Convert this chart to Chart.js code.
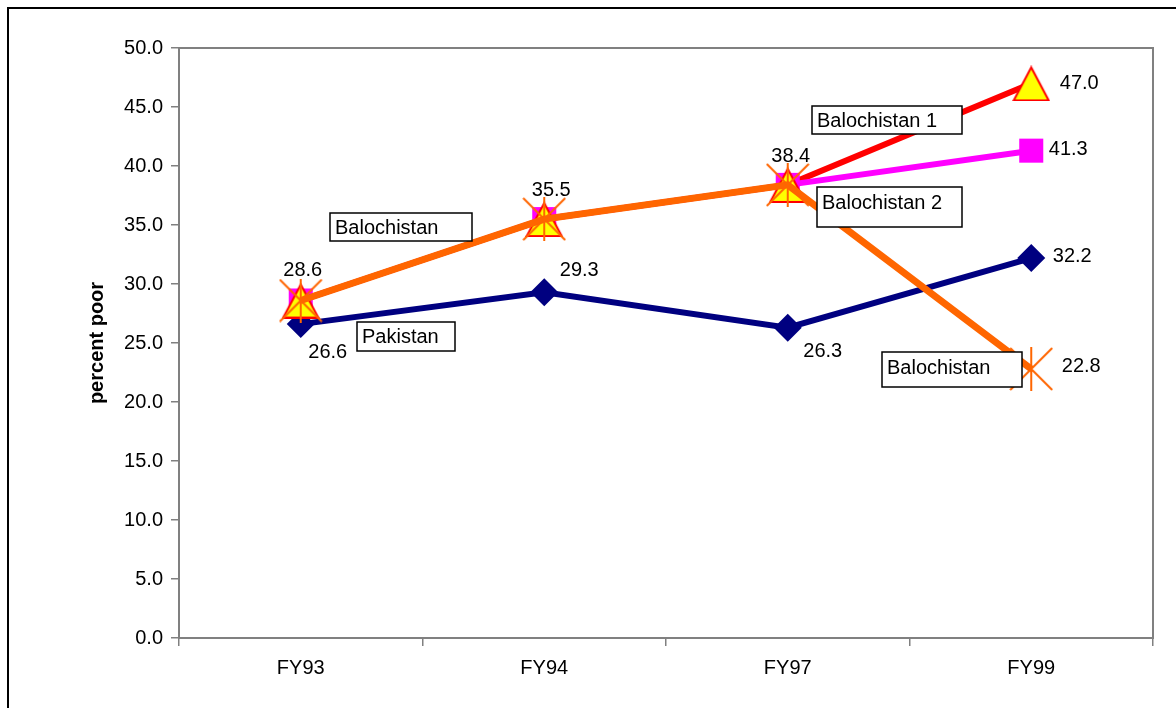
<!DOCTYPE html>
<html>
<head>
<meta charset="utf-8">
<script src="https://cdn.jsdelivr.net/npm/chart.js@4.4.1/dist/chart.umd.min.js"></script>
<style>
  html, body { margin: 0; padding: 0; background: #fff; }
</style>
</head>
<body>
<canvas id="grafico" width="1176" height="708"></canvas>
<script>
// --- dados ---
const anos = ['FY93', 'FY94', 'FY97', 'FY99'];
const pakistan = [26.6, 29.3, 26.3, 32.2];
const balochistan1 = [28.6, 35.5, 38.4, 47.0];
const balochistan2 = [28.6, 35.5, 38.4, 41.3];
const balochistan = [28.6, 35.5, 38.4, 22.8];
const yTicks = [0, 5, 10, 15, 20, 25, 30, 35, 40, 45, 50];

// caixas de texto com o nome das séries (posição em pixels do canvas)
const caixas = [
    { texto: 'Balochistan', x: 330, y: 213, w: 142, h: 28 },
    { texto: 'Pakistan', x: 357, y: 322, w: 98, h: 29 },
    { texto: 'Balochistan 1', x: 812, y: 106, w: 150, h: 28 },
    { texto: 'Balochistan 2', x: 817, y: 187, w: 145, h: 40 },
    { texto: 'Balochistan', x: 882, y: 352, w: 140, h: 35 }
];

const FONTE = '"Liberation Sans", Arial, sans-serif';

// marcador "estrela" do Excel: X + traço vertical
function criarEstrela(cor, tam) {
    const c = document.createElement('canvas');
    c.width = tam; c.height = tam;
    const g = c.getContext('2d');
    g.strokeStyle = cor;
    g.lineWidth = 2;
    g.beginPath();
    g.moveTo(1, 1); g.lineTo(tam - 1, tam - 1);
    g.moveTo(tam - 1, 1); g.lineTo(1, tam - 1);
    g.moveTo(tam / 2, 0); g.lineTo(tam / 2, tam);
    g.stroke();
    return c;
}

// triângulo centrado na caixa (como no Excel)
function criarTriangulo(fundo, borda, w, h) {
    const c = document.createElement('canvas');
    c.width = w; c.height = h;
    const g = c.getContext('2d');
    g.fillStyle = fundo;
    g.strokeStyle = borda;
    g.lineWidth = 2;
    g.lineJoin = 'miter';
    g.beginPath();
    g.moveTo(w / 2, 2);
    g.lineTo(w - 1.5, h - 1);
    g.lineTo(1.5, h - 1);
    g.closePath();
    g.fill();
    g.stroke();
    return c;
}

const estrela = criarEstrela('#FF6600', 44);
const triangulo = criarTriangulo('#FFFF00', '#FF0000', 38, 36);

const pluginDesenho = {
    id: 'desenho',
    beforeDraw(chart) {
        const ctx = chart.ctx;
        ctx.save();
        ctx.fillStyle = '#fff';
        ctx.fillRect(0, 0, chart.width, chart.height);
        // moldura externa
        ctx.strokeStyle = '#000';
        ctx.lineWidth = 2;
        ctx.strokeRect(8, 8, 1300, 900);
        ctx.restore();
    },
    beforeDatasetsDraw(chart) {
        const { ctx, chartArea: a } = chart;
        ctx.save();
        ctx.strokeStyle = '#808080';
        ctx.lineWidth = 2;
        ctx.strokeRect(a.left, a.top, a.right - a.left, a.bottom - a.top);
        ctx.restore();
    },
    afterDatasetsDraw(chart) {
        const ctx = chart.ctx;
        ctx.save();
        ctx.font = '20px ' + FONTE;
        ctx.fillStyle = '#000';
        ctx.textAlign = 'center';
        ctx.textBaseline = 'middle';
        chart.data.datasets.forEach((ds, i) => {
            if (!ds.rotulos) return;
            const meta = chart.getDatasetMeta(i);
            Object.entries(ds.rotulos).forEach(([idx, [dx, dy]]) => {
                const p = meta.data[idx];
                ctx.fillText(ds.data[idx].toFixed(1), p.x + dx, p.y + dy);
            });
        });
        // caixas com nomes
        ctx.textAlign = 'left';
        caixas.forEach(c => {
            ctx.fillStyle = '#fff';
            ctx.fillRect(c.x, c.y, c.w, c.h);
            ctx.strokeStyle = '#000';
            ctx.lineWidth = 1.5;
            ctx.strokeRect(c.x, c.y, c.w, c.h);
            ctx.fillStyle = '#000';
            ctx.fillText(c.texto, c.x + 5, c.y + Math.min(c.h / 2, 15) + 1);
        });
        ctx.restore();
    }
};

new Chart(document.getElementById('grafico'), {
    type: 'line',
    data: {
        labels: anos,
        datasets: [
            {
                label: 'Pakistan',
                data: pakistan,
                borderColor: '#000080',
                backgroundColor: '#000080',
                borderWidth: 6,
                pointStyle: 'rectRot',
                pointRadius: 14,
                pointBorderWidth: 0,
                order: 5,
                rotulos: { 0: [27, 28], 1: [35, -22], 2: [35, 24], 3: [41, -2] }
            },
            {
                label: 'Balochistan 1',
                data: balochistan1,
                borderColor: '#FF0000',
                borderWidth: 6,
                pointRadius: 0,
                order: 4
            },
            {
                label: 'Balochistan 2',
                data: balochistan2,
                borderColor: '#FF00FF',
                backgroundColor: '#FF00FF',
                borderWidth: 6,
                pointStyle: 'rect',
                pointRadius: 17,
                pointBorderWidth: 0,
                order: 3,
                rotulos: { 3: [37, -1] }
            },
            {
                label: 'Balochistan 1 (pontos)',
                data: balochistan1,
                showLine: false,
                pointStyle: triangulo,
                order: 2,
                rotulos: { 0: [2, -30], 1: [7, -29], 2: [3, -28], 3: [48, 0] }
            },
            {
                label: 'Balochistan',
                data: balochistan,
                borderColor: '#FF6600',
                borderWidth: 7,
                pointStyle: estrela,
                order: 1,
                rotulos: { 3: [50, -2] }
            }
        ]
    },
    options: {
        responsive: false,
        animation: false,
        layout: { padding: { top: 48, right: 23, left: 0, bottom: 0 } },
        plugins: { legend: { display: false }, tooltip: { enabled: false } },
        scales: {
            x: {
                offset: true,
                grid: { drawOnChartArea: false, offset: true, tickLength: 8, color: '#808080', lineWidth: 1.5 },
                border: { color: '#808080', width: 2 },
                ticks: { color: '#000', font: { family: FONTE, size: 20 }, padding: 10, maxRotation: 0 },
                afterFit(scale) { scale.height = 70; }
            },
            y: {
                min: 0,
                max: 50,
                afterBuildTicks(scale) { scale.ticks = yTicks.map(v => ({ value: v })); },
                grid: { drawOnChartArea: false, tickLength: 8, color: '#808080', lineWidth: 1.5 },
                border: { color: '#808080', width: 2 },
                ticks: {
                    color: '#000',
                    font: { family: FONTE, size: 20 },
                    padding: 8,
                    callback: v => Number(v).toFixed(1)
                },
                title: {
                    display: true,
                    text: 'percent poor',
                    color: '#000',
                    font: { family: FONTE, size: 20, weight: 'bold' },
                    padding: { top: 85, bottom: 0 }
                },
                afterFit(scale) { scale.width = 179; }
            }
        }
    },
    plugins: [pluginDesenho]
});
</script>
</body>
</html>
